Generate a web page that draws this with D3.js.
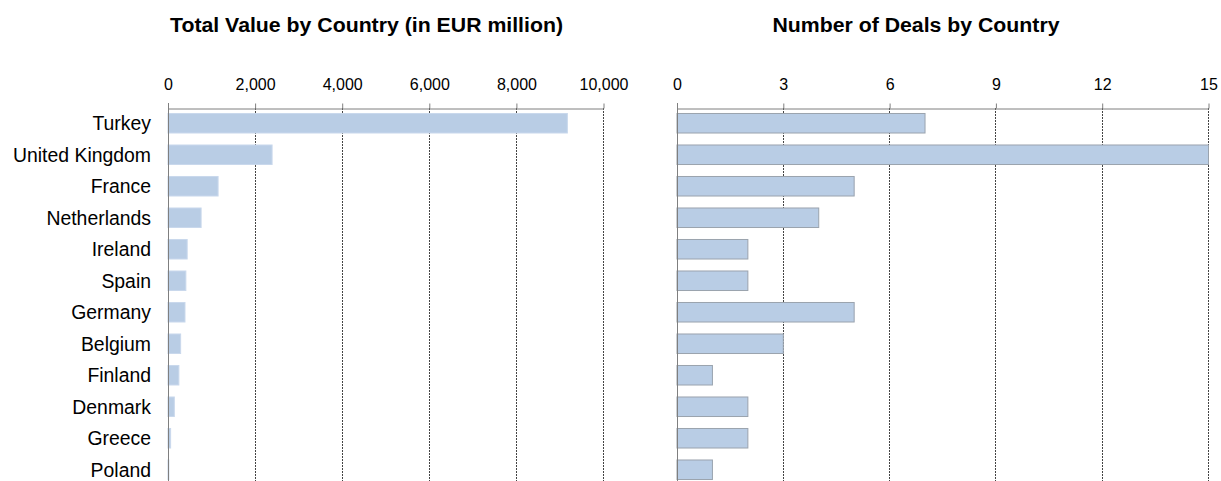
<!DOCTYPE html>
<html>
<head>
<meta charset="utf-8">
<script src="https://cdn.jsdelivr.net/npm/d3@7"></script>
<style>
  body { margin: 0; background: #fff; }
  text { font-family: "Liberation Sans", Arial, sans-serif; }
</style>
</head>
<body>
<div id="chart"></div>
<script>
const width = 1221, height = 481;

const countries = ["Turkey", "United Kingdom", "France", "Netherlands", "Ireland", "Spain",
    "Germany", "Belgium", "Finland", "Denmark", "Greece", "Poland"];
const totalValue = [9170, 2390, 1150, 760, 440, 410, 390, 290, 250, 145, 60, 20];
const dealCount = [7, 15, 5, 4, 2, 2, 5, 3, 1, 2, 2, 1];
const valueTicks = [0, 2000, 4000, 6000, 8000, 10000];
const dealTicks = [0, 3, 6, 9, 12, 15];

const svg = d3.select("#chart")
    .append("svg")
    .attr("width", width)
    .attr("height", height);

const y = d3.scaleBand()
    .domain(countries)
    .range([107.5, 485.5])
    .paddingInner(0.38)
    .paddingOuter(0.19);

function panel(opts) {
    const x = d3.scaleLinear()
        .domain(opts.domain)
        .range(opts.range);
    const g = svg.append("g");

    g.append("text")
        .attr("x", opts.titleX)
        .attr("y", 32)
        .attr("text-anchor", "middle")
        .attr("font-size", 20)
        .attr("font-weight", "bold")
        .attr("fill", "#000")
        .attr("textLength", opts.titleW)
        .attr("lengthAdjust", "spacingAndGlyphs")
        .text(opts.title);

    // dashed grid lines
    g.selectAll(".grid")
        .data(opts.ticks.slice(1))
        .enter()
        .append("line")
        .attr("x1", d => Math.round(x(d)) + 0.5)
        .attr("x2", d => Math.round(x(d)) + 0.5)
        .attr("y1", 108)
        .attr("y2", height)
        .attr("stroke", "#444")
        .attr("stroke-dasharray", "2,1");

    g.selectAll(".bar")
        .data(opts.values)
        .enter()
        .append("rect")
        .attr("x", x(0) + 0.5)
        .attr("y", (d, i) => y(countries[i]))
        .attr("width", d => Math.max(0, x(d) - x(0)))
        .attr("height", y.bandwidth())
        .attr("fill", "#b9cde5")
        .attr("stroke", opts.barStroke)
        .attr("stroke-width", 1);

    // top axis
    const axis = d3.axisTop(x)
        .tickValues(opts.ticks)
        .tickSize(5)
        .tickSizeOuter(0)
        .tickFormat(opts.format);
    const ag = g.append("g")
        .attr("transform", "translate(0.5,108.5)")
        .call(axis);
    ag.select(".domain").attr("stroke", "#7f7f7f");
    ag.selectAll(".tick line").attr("stroke", "#7f7f7f");
    ag.selectAll(".tick text")
        .attr("font-family", "Liberation Sans, Arial, sans-serif")
        .attr("font-size", 16)
        .attr("fill", "#000")
        .attr("dy", "-0.66em");

    // vertical baseline
    g.append("line")
        .attr("x1", Math.round(x(0)) + 0.5)
        .attr("x2", Math.round(x(0)) + 0.5)
        .attr("y1", 103)
        .attr("y2", height)
        .attr("stroke", "#7f7f7f");
    return x;
}

panel({
    title: "Total Value by Country (in EUR million)",
    titleX: 366.5,
    titleW: 393,
    domain: [0, 10000],
    range: [167.5, 603],
    ticks: valueTicks,
    format: d3.format(","),
    values: totalValue,
    barStroke: "#c9d8ec"
});

panel({
    title: "Number of Deals by Country",
    titleX: 916,
    titleW: 287,
    domain: [0, 15],
    range: [676.5, 1208],
    ticks: dealTicks,
    format: d3.format("d"),
    values: dealCount,
    barStroke: "#9aa3ae"
});

svg.selectAll(".label")
    .data(countries)
    .enter()
    .append("text")
    .attr("x", 151)
    .attr("y", d => y(d) + y.bandwidth() / 2)
    .attr("dy", "0.36em")
    .attr("text-anchor", "end")
    .attr("font-size", 19.4)
    .attr("fill", "#000")
    .text(d => d);
</script>
</body>
</html>
